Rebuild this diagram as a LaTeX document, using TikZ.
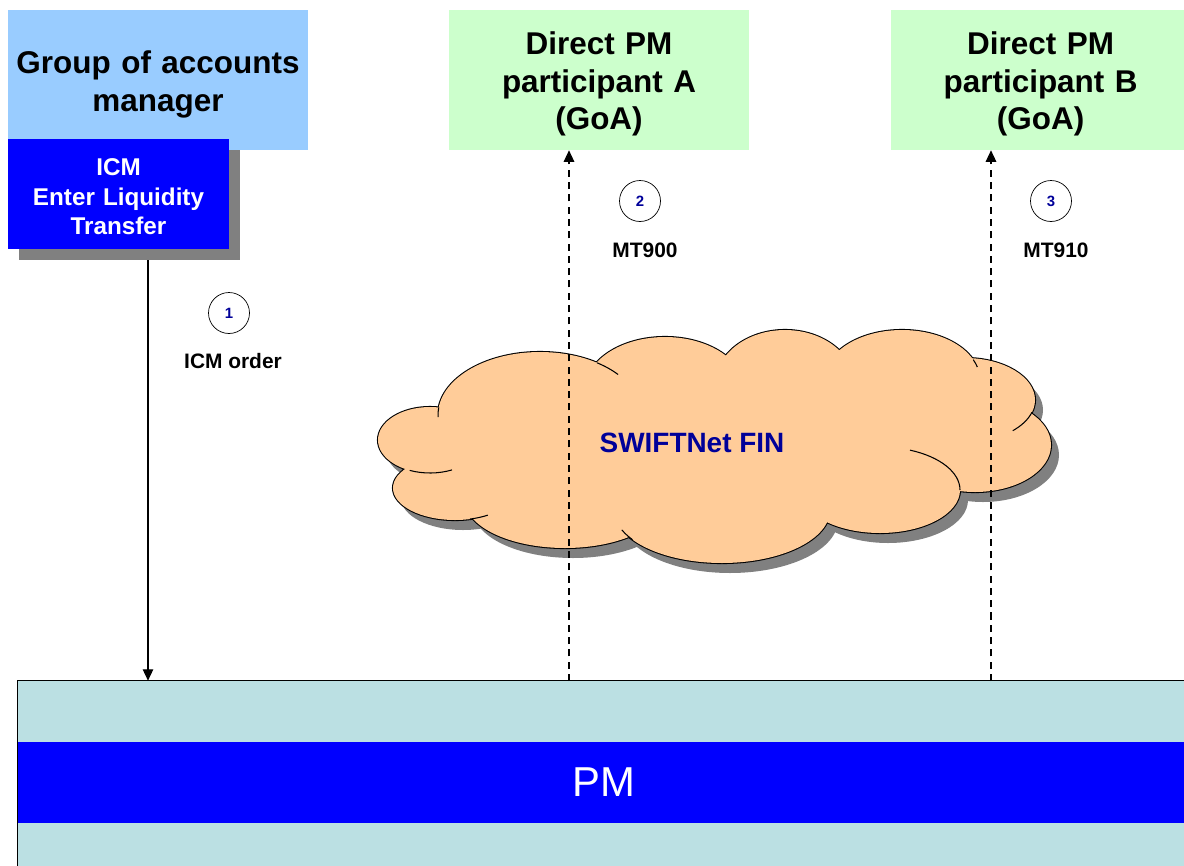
\documentclass[tikz,border=0pt]{standalone}
\usepackage{fontspec}
\setmainfont{Liberation Sans}
\usetikzlibrary{shapes,arrows,arrows.meta,positioning,shadows}

\definecolor{mgrblue}{HTML}{99CCFF}
\definecolor{partgreen}{HTML}{CCFFCC}
\definecolor{icmblue}{HTML}{0000FF}
\definecolor{cloudorange}{HTML}{FFCC99}
\definecolor{pmlight}{HTML}{BBE0E3}
\definecolor{navytext}{HTML}{000099}
\definecolor{shadowgray}{HTML}{808080}

% puffs of the network cloud (centre, x radius, y radius)
\newcommand{\cloudlobes}{%
  (430,440) ellipse [x radius=52, y radius=33]
  (455,488) ellipse [x radius=62, y radius=32]
  (565,500) ellipse [x radius=100, y radius=48]
  (722,510) ellipse [x radius=108, y radius=53]
  (880,490) ellipse [x radius=80, y radius=43]
  (975,445) ellipse [x radius=76, y radius=47]
  (965,400) ellipse [x radius=70, y radius=42]
  (902,380) ellipse [x radius=78, y radius=50]
  (785,385) ellipse [x radius=70, y radius=55]
  (665,390) ellipse [x radius=80, y radius=53]
  (540,415) ellipse [x radius=102, y radius=63]
  (712,445) ellipse [x radius=250, y radius=80]}

\begin{document}
\begin{tikzpicture}[x=0.02cm, y=-0.02cm, node distance=2cm, auto]
    % Define styles
    \tikzstyle{party} = [rectangle, minimum width=6cm, minimum height=2.8cm, text width=5.8cm, align=center, inner sep=0pt, font=\bfseries\fontsize{17.9}{21.5}\selectfont]
    \tikzstyle{icmbox} = [rectangle, minimum width=4.42cm, minimum height=2.2cm, text width=4.3cm, align=center, inner sep=0pt, fill=icmblue, text=white, font=\bfseries\fontsize{13.8}{16.7}\selectfont, drop shadow={shadow xshift=0.22cm, shadow yshift=-0.22cm, fill=shadowgray, opacity=1}]
    \tikzstyle{num} = [circle, draw=black, minimum size=0.82cm, inner sep=0pt, text=navytext, font=\bfseries\fontsize{8.5}{10}\selectfont]
    \tikzstyle{lbl} = [font=\bfseries\fontsize{11.9}{14}\selectfont]
    \tikzstyle{msg} = [line width=0.6pt, ->, >={Triangle[length=6.5pt, width=6pt]}]
    \tikzstyle{reply} = [msg, dash pattern=on 4pt off 3pt]

    \clip (0,0) rectangle (1184,866);

    % Nodes
    \node [party, fill=mgrblue] (mgr) at (158,80) {\rule{0pt}{17.7pt}Group of accounts\\manager};
    \node [icmbox] (icm) at (118.5,194) {\rule{0pt}{12.7pt}ICM\\Enter Liquidity\\Transfer};
    \node [party, fill=partgreen] (partA) at (599,80) {\rule{0pt}{17.5pt}Direct PM\\participant A\\(GoA)};
    \node [party, fill=partgreen, right=2.82cm of partA] (partB) {\rule{0pt}{17.5pt}Direct PM\\participant B\\(GoA)};

    % SWIFTNet cloud
    \fill [shadowgray, shift={(8,10)}] \cloudlobes;
    \draw [line width=1.2pt] \cloudlobes;
    \fill [cloudorange] \cloudlobes;
    \draw [line width=0.6pt]
      (430,440) ++(113:52 and 33) arc [start angle=113, end angle=65, x radius=52, y radius=33]
      (455,488) ++(76:62 and 32) arc [start angle=76, end angle=58, x radius=62, y radius=32]
      (722,510) ++(146:108 and 53) arc [start angle=146, end angle=158, x radius=108, y radius=53]
      (880,490) ++(-68:80 and 43) arc [start angle=-68, end angle=0, x radius=80, y radius=43]
      (965,400) ++(17:70 and 42) arc [start angle=17, end angle=47, x radius=70, y radius=42]
      (902,380) ++(-24:78 and 50) arc [start angle=-24, end angle=-15, x radius=78, y radius=50]
      (540,415) ++(-56:102 and 63) arc [start angle=-56, end angle=-40, x radius=102, y radius=63]
      (540,415) ++(187:102 and 63) arc [start angle=187, end angle=178, x radius=102, y radius=63];
    \node [text=navytext, font=\bfseries\fontsize{15.9}{19}\selectfont] (swift) at (692,443) {SWIFTNet FIN};

    % PM block
    \node [rectangle, minimum width=23.44cm, minimum height=3.78cm, inner sep=0pt, fill=pmlight] (pm) at (604,775.5) {};
    \node [rectangle, minimum width=23.44cm, minimum height=1.62cm, inner sep=0pt, fill=icmblue, text=white, font=\fontsize{23.8}{28}\selectfont] (pmcore) at (604,782.5) {PM};
    \draw [line width=0.8pt] (pm.south west) -- (pm.north west) -- (pm.north east);

    \coordinate (order) at (148,260);
    \coordinate (sendA) at (569,681);
    \coordinate (sendB) at (991,681);

    % Arrows
    \draw [msg] (order) -- (order |- pm.north);
    \draw [reply] (sendA) -- (sendA |- partA.south);
    \draw [reply] (sendB) -- (sendB |- partB.south);

    % Steps
    \node [num] (n1) at (229,313) {1};
    \node [lbl] (l1) at (233,361) {ICM order};
    \node [num] (n2) at (640,201) {2};
    \node [lbl] (l2) at (645,250) {MT900};
    \node [num] (n3) at (1051,201) {3};
    \node [lbl] (l3) at (1056,250) {MT910};
\end{tikzpicture}
\end{document}
